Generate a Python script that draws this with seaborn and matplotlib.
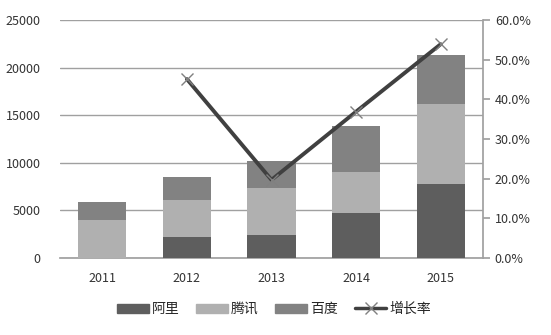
import matplotlib
matplotlib.use("Agg")
import matplotlib.pyplot as plt
import seaborn as sns
import numpy as np
import pandas as pd
from matplotlib.patches import Patch
from matplotlib.lines import Line2D
from matplotlib.ticker import FuncFormatter

years = ["2011", "2012", "2013", "2014", "2015"]
ali = [0, 2200, 2450, 4760, 7740]
tencent = [4000, 3900, 4930, 4310, 8400]
baidu = [1880, 2400, 2780, 4800, 5180]
growth_years = ["2012", "2013", "2014", "2015"]
growth = [0.451, 0.197, 0.369, 0.539]
series_names = ["阿里", "腾讯", "百度", "增长率"]

colors = ["#5e5e5e", "#b0b0b0", "#828282"]

sns.set_theme(style="white")
plt.rcParams['font.family'] = ['Noto Sans CJK SC', 'DejaVu Sans']

fig = plt.figure(figsize=(5.51, 3.35), dpi=100)
ax = fig.add_axes([60/551, 1 - 258/335, 423/551, 238/335])

df = pd.DataFrame({"year": years, "阿里": ali, "腾讯": tencent, "百度": baidu})
bottom = np.zeros(len(years))
for name, c in zip(["阿里", "腾讯", "百度"], colors):
    vals = df[name].to_numpy(dtype=float)
    sns.barplot(x=df["year"], y=bottom + vals, color=c, ax=ax, width=0.57,
                saturation=1, order=years)
    bottom = bottom + vals
for p in ax.patches:
    p.set_linewidth(0)
n = len(years)
for i, p in enumerate(ax.patches):
    group = i // n
    p.set_zorder(5 - group)

ax.set_ylim(0, 25000)
ax.set_yticks(range(0, 25001, 5000))
ax.set_xlim(-0.5, 4.5)
ax.set_xlabel("")
ax.set_ylabel("")
ax.yaxis.grid(True, color="#a0a0a0", linewidth=1)
ax.set_axisbelow(True)
for s in ["left", "top", "right"]:
    ax.spines[s].set_visible(False)
ax.spines["bottom"].set_color("#a0a0a0")
ax.tick_params(axis="both", length=0, labelsize=9, colors="#333333")
ax.tick_params(axis="y", pad=14)
ax.tick_params(axis="x", pad=10)

ax2 = ax.twinx()
gx = [years.index(y) for y in growth_years]
sns.lineplot(x=gx, y=growth, ax=ax2, color="#404040", linewidth=2.8,
             marker="x", markersize=9, markeredgewidth=1.0, markeredgecolor="#808080")
ax2.set_ylim(0, 0.6)
ax2.set_yticks(np.arange(0, 0.61, 0.1))
ax2.yaxis.set_major_formatter(FuncFormatter(lambda v, p: f"{v*100:.1f}%"))
ax2.set_xlim(-0.5, 4.5)
for s in ["left", "top", "bottom"]:
    ax2.spines[s].set_visible(False)
ax2.spines["right"].set_color("#a0a0a0")
ax2.tick_params(axis="y", length=5, color="#a0a0a0", labelsize=9, colors="#333333", direction="out")
ax2.tick_params(axis="y", which="both", labelcolor="#333333")
ax2.set_ylabel("")

handles = [Patch(color=colors[0]), Patch(color=colors[1]), Patch(color=colors[2]),
           Line2D([0], [0], color="#404040", linewidth=2.5, marker="x",
                  markersize=8, markeredgewidth=1.0, markeredgecolor="#808080")]
fig.legend(handles, series_names, loc="center", bbox_to_anchor=(274/551, 1 - 309/335),
           ncol=4, frameon=False, fontsize=10, handlelength=2.3, handleheight=0.6,
           columnspacing=1.2, handletextpad=0.2)

fig.savefig("out.png", dpi=100)
